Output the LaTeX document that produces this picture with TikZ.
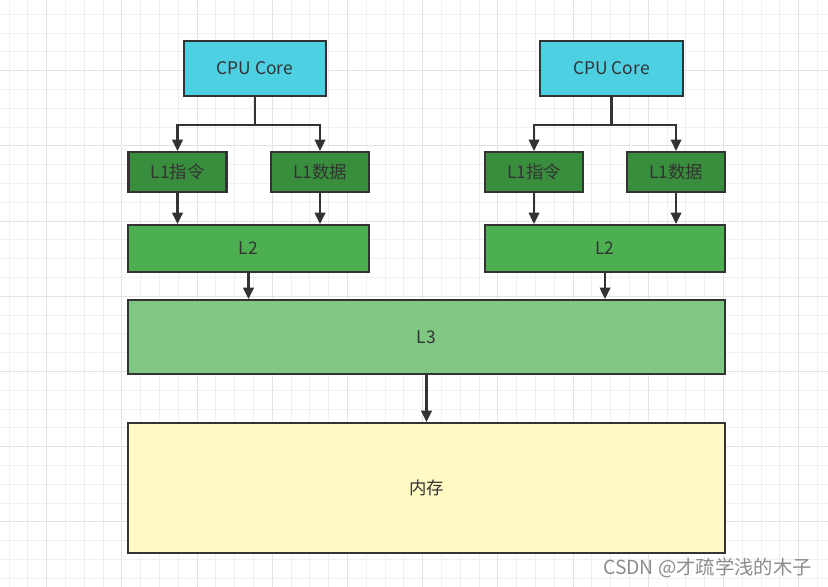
\documentclass[tikz,border=0pt]{standalone}
\usepackage{fontspec}
\setmainfont{Noto Sans CJK SC}
\usepackage{xcolor}
\usepackage{tikz}
\usetikzlibrary{arrows.meta}

\definecolor{edgegray}{HTML}{333333}
\definecolor{cpucyan}{HTML}{4DD0E1}
\definecolor{lonegreen}{HTML}{388E3C}
\definecolor{ltwogreen}{HTML}{4CAF50}
\definecolor{lthreegreen}{HTML}{81C784}
\definecolor{memyellow}{HTML}{FFF9C4}
\definecolor{minorgrid}{HTML}{F0F0F0}
\definecolor{majorgrid}{HTML}{E3E3E3}

\tikzset{
  box/.style={draw=edgegray, line width=1.2pt, text=edgegray, inner sep=0pt,
    font=\fontsize{9.9}{12}\selectfont},
  arr/.style={draw=edgegray, line width=1.3pt, -{Triangle[width=6pt,length=6.5pt]}},
}

\begin{document}
\begin{tikzpicture}[x=0.02cm, y=-0.02cm]
  \useasboundingbox (0,0) rectangle (828,587);
  \fill[white] (0,0) rectangle (828,587);
  \begin{scope}
    \clip (0,0) rectangle (828,587);
    \draw[shift={(9.1,14.3)}, step=0.376cm, minorgrid, line width=0.5pt] (-20,-20) grid (840,600);
    \draw[shift={(46.7,70.7)}, step=1.504cm, majorgrid, line width=0.5pt] (-80,-80) grid (840,600);
  \end{scope}

  % left core
  \node[box, fill=cpucyan, minimum width=2.84cm, minimum height=1.10cm] (cpuL) at (255,68.5) {CPU Core};
  \node[box, fill=lonegreen, minimum width=1.96cm, minimum height=0.80cm] (insL) at (177.5,172) {L1指令};
  \node[box, fill=lonegreen, minimum width=1.96cm, minimum height=0.80cm] (datL) at (320,172) {L1数据};
  \node[box, fill=ltwogreen, minimum width=4.82cm, minimum height=0.94cm] (ltwoL) at (248.5,248.5) {L2};

  % right core
  \node[box, fill=cpucyan, minimum width=2.86cm, minimum height=1.10cm] (cpuR) at (611.5,68.5) {CPU Core};
  \node[box, fill=lonegreen, minimum width=1.96cm, minimum height=0.80cm] (insR) at (534,172) {L1指令};
  \node[box, fill=lonegreen, minimum width=1.96cm, minimum height=0.80cm] (datR) at (676,172) {L1数据};
  \node[box, fill=ltwogreen, minimum width=4.80cm, minimum height=0.94cm] (ltwoR) at (605,248.5) {L2};

  % shared
  \node[box, fill=lthreegreen, minimum width=11.94cm, minimum height=1.48cm] (lthree) at (426.5,337) {L3};
  \node[box, fill=memyellow, minimum width=11.94cm, minimum height=2.60cm] (mem) at (426.5,488) {内存};

  \node[text=gray!90, font=\fontsize{11}{13}\selectfont] (mark) at (707.5,568) {CSDN @才疏学浅的木子};

  \draw[arr] (cpuL.south) -- ++(0,28) -| (insL.north);
  \draw[arr] (cpuL.south) -- ++(0,28) -| (datL.north);
  \draw[arr] (cpuR.south) -- ++(0,28) -| (insR.north);
  \draw[arr] (cpuR.south) -- ++(0,28) -| (datR.north);
  \draw[arr] (insL.south) -- (insL.south |- ltwoL.north);
  \draw[arr] (datL.south) -- (datL.south |- ltwoL.north);
  \draw[arr] (insR.south) -- (insR.south |- ltwoR.north);
  \draw[arr] (datR.south) -- (datR.south |- ltwoR.north);
  \draw[arr] (ltwoL.south) -- (ltwoL.south |- lthree.north);
  \draw[arr] (ltwoR.south) -- (ltwoR.south |- lthree.north);
  \draw[arr] (lthree.south) -- (mem.north);
\end{tikzpicture}
\end{document}
